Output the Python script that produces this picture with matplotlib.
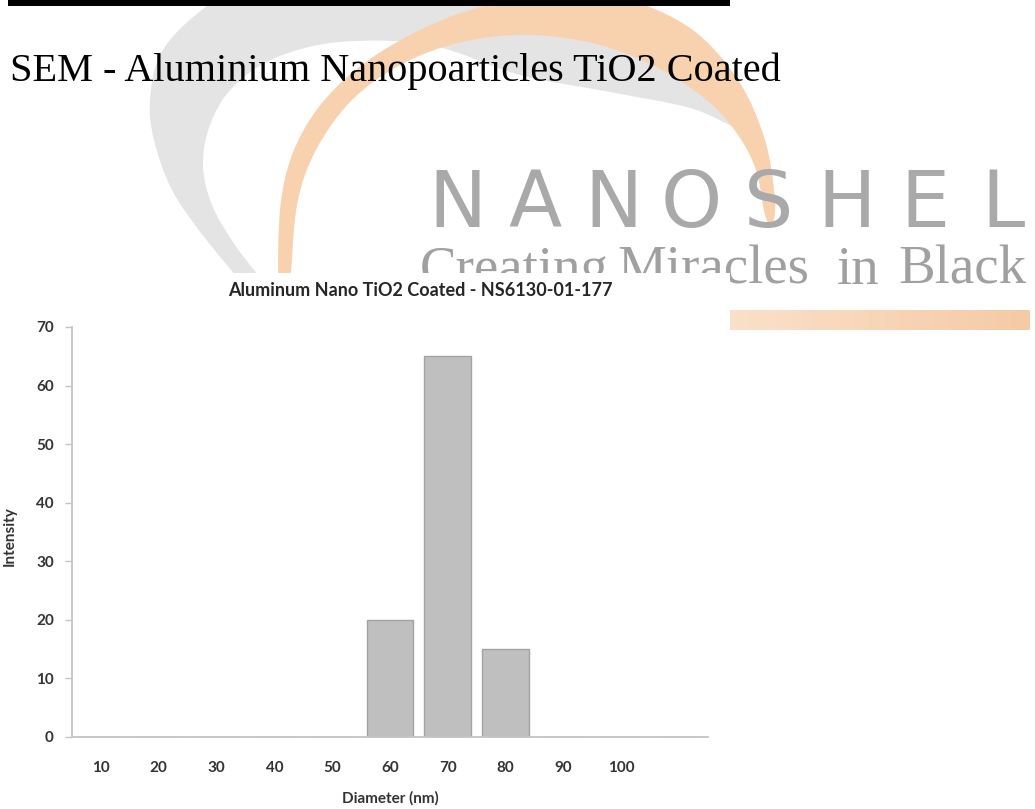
import numpy as np
import matplotlib
matplotlib.use("Agg")
import matplotlib.pyplot as plt
from matplotlib.path import Path
from matplotlib.patches import PathPatch, Rectangle, Polygon

# chart data
diameters = ['10', '20', '30', '40', '50', '60', '70', '80', '90', '100', '']
intensity = [0, 0, 0, 0, 0, 20, 65, 15, 0, 0, 0]
y_ticks = [0, 10, 20, 30, 40, 50, 60, 70]

page_title = 'SEM - Aluminium Nanopoarticles TiO2 Coated'
chart_title = 'Aluminum Nano TiO2 Coated - NS6130-01-177'

W, H = 1035, 809


def smooth_path(pts):
    # closed catmull-rom curve through the given points
    pts = np.asarray(pts, float)
    n = len(pts)
    verts = [pts[0]]
    codes = [Path.MOVETO]
    for i in range(n):
        p0, p1, p2, p3 = pts[i - 1], pts[i], pts[(i + 1) % n], pts[(i + 2) % n]
        verts += [p1 + (p2 - p0) / 6, p2 - (p3 - p1) / 6, p2]
        codes += [Path.CURVE4] * 3
    return Path(verts, codes)


fig = plt.figure(figsize=(W / 100, H / 100), dpi=100)
fig.patch.set_facecolor('white')

# background layer in pixel coordinates
bg = fig.add_axes([0, 0, 1, 1])
bg.set_xlim(0, W)
bg.set_ylim(H, 0)
bg.axis('off')

# watermark logo swooshes
grey_outer = [(250, 290), (205, 238), (172, 190), (154, 140), (150, 100), (160, 55), (192, 18),
              (240, -12), (330, -32), (450, -35), (570, -18), (660, 22), (720, 75), (752, 138)]
grey_inner = [(735, 128), (690, 108), (610, 92), (520, 75), (430, 45), (340, 42), (275, 58),
              (232, 88), (210, 125), (203, 165), (212, 205), (235, 245), (268, 290)]
bg.add_patch(PathPatch(smooth_path(grey_outer + grey_inner), facecolor='#e4e4e4',
                       edgecolor='none', zorder=1))

orange_outer = [(279, 290), (280, 210), (292, 155), (318, 108), (358, 68), (410, 35), (470, 10),
                (540, -5), (620, -2), (690, 28), (738, 80), (765, 140), (775, 200), (772, 225)]
orange_inner = [(765, 215), (756, 170), (738, 135), (710, 103), (662, 70), (600, 45), (530, 35),
                (462, 42), (402, 64), (352, 100), (316, 150), (297, 205), (289, 290)]
bg.add_patch(PathPatch(smooth_path(orange_outer + orange_inner), facecolor='#f8d2ae',
                       edgecolor='none', zorder=2))

# NANOSHEL lettering
for i, ch in enumerate('NANOSHEL'):
    bg.text(457 + i * 78, 227, ch, fontsize=56, color='#a9a9a9', ha='center', va='baseline',
            family='DejaVu Sans', zorder=3)

# tagline, cut off where the chart panel sits on top of it
outside_panel = Polygon([(0, 0), (W, 0), (W, H), (730, H), (730, 273), (0, 273)],
                        closed=True, transform=bg.transData, facecolor='none')
for word, x0 in [('Creating', 420), ('Miracles', 617), ('in', 837), ('Black', 898)]:
    t = bg.text(x0, 284, word, fontsize=39.5, color='#a0a0a0', ha='left', va='baseline',
                family='Liberation Serif', zorder=3)
    t.set_clip_path(outside_panel)

# peach band
grad = np.linspace(0, 1, 64).reshape(1, -1)
cmap = matplotlib.colors.LinearSegmentedColormap.from_list('band', ['#fae0c9', '#f5cba6'])
bg.imshow(grad, cmap=cmap, extent=(730, 1030, 330, 310), aspect='auto', zorder=3)
bg.set_xlim(0, W)
bg.set_ylim(H, 0)

# black strip and page heading
bg.add_patch(Rectangle((8, 0), 722, 6, facecolor='black', edgecolor='none', zorder=4))
bg.text(10, 81, page_title, fontsize=29, family='Liberation Serif', color='black',
        ha='left', va='baseline', zorder=5)

# white chart panel
bg.add_patch(Rectangle((0, 273), 730, H - 273, facecolor='white', edgecolor='none', zorder=6))
bg.text(420, 290, chart_title, fontsize=13, fontweight='bold', family='Lato', color='#262626',
        ha='center', va='center', zorder=7)

# the bar chart
ax = fig.add_axes([72 / W, (H - 737) / H, 636 / W, 410 / H])
ax.set_facecolor('none')
x = np.arange(len(diameters))
ax.bar(x, intensity, width=0.81, color='#bfbfbf', edgecolor='#a3a3a3', linewidth=1)
ax.set_xlim(-0.5, len(diameters) - 0.5)
ax.set_ylim(0, 70)
ax.set_xticks(x)
ax.set_xticklabels(diameters)
ax.set_yticks(y_ticks)

for s in ['top', 'right']:
    ax.spines[s].set_visible(False)
for s in ['left', 'bottom']:
    ax.spines[s].set_color('#c4c4c4')
    ax.spines[s].set_linewidth(1.3)

ax.tick_params(axis='x', length=0, pad=17, labelsize=11, labelcolor='#333333')
ax.tick_params(axis='y', length=5, width=1, color='#c4c4c4', pad=8, labelsize=11,
               labelcolor='#333333')
for lab in ax.get_xticklabels() + ax.get_yticklabels():
    lab.set_family('Lato')
    lab.set_fontweight('bold')

ax.set_ylabel('Intensity', fontsize=11, fontweight='bold', family='Lato', color='#333333')
ax.yaxis.set_label_coords((17 - 72) / 636, 0.49)
ax.set_xlabel('Diameter (nm)', fontsize=11, fontweight='bold', family='Lato', color='#333333')
ax.xaxis.set_label_coords(0.5, -(791 - 737) / 410)

fig.savefig('out.png', dpi=100)
